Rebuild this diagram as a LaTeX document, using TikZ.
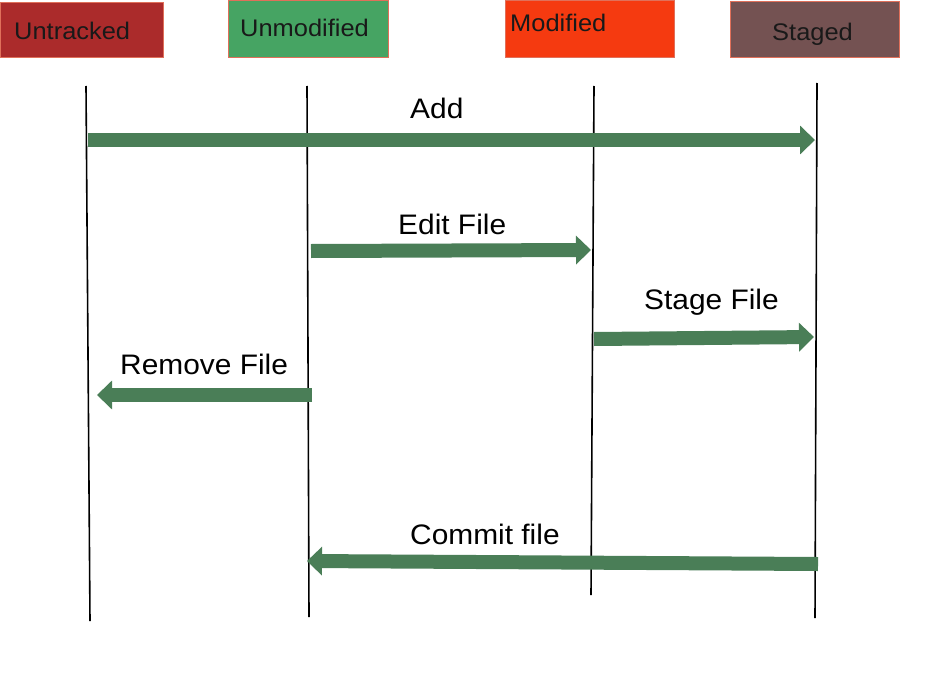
\documentclass[tikz,border=0pt]{standalone}
\usepackage{fontspec}
\setmainfont{Liberation Sans}
\newfontfamily\labfont[FakeStretch=1.06]{Liberation Sans}
\usetikzlibrary{arrows.meta}
\definecolor{untrackedc}{HTML}{AB2B2B}
\definecolor{unmodc}{HTML}{46A463}
\definecolor{modc}{HTML}{F53A10}
\definecolor{stagedc}{HTML}{745252}
\definecolor{edgec}{HTML}{E0705A}
\definecolor{arrowc}{HTML}{4A7E57}
\tikzset{
  statebox/.style={draw=edgec, line width=0.9pt, rectangle},
  boxlabel/.style={anchor=base west, inner sep=0pt, font=\labfont\fontsize{24}{28}\selectfont, text=black!90},
  arrlabel/.style={anchor=base west, inner sep=0pt, font=\labfont\fontsize{28.2}{32}\selectfont, text=black},
  lifeline/.style={draw=black, line width=1.6pt},
  transition/.style={draw=arrowc, line width=14pt, -{Triangle[width=28pt,length=15pt]}}
}
\begin{document}
\begin{tikzpicture}[x=1pt,y=-1pt]
\useasboundingbox (0,0) rectangle (952,698);
% state boxes
\path[statebox, fill=untrackedc] (0,2) rectangle (163,57);
\path[statebox, fill=unmodc] (228,0.5) rectangle (388,57);
\path[statebox, fill=modc] (505,0.5) rectangle (674,57);
\path[statebox, fill=stagedc] (730,1) rectangle (899,57);
\node[boxlabel] (lu) at (14,39.5) {Untracked};
\node[boxlabel] (lm) at (240,36.5) {Unmodified};
\node[boxlabel] (lmod) at (510,31.5) {Modified};
\node[boxlabel] (ls) at (772,40.5) {Staged};
% lifelines
\coordinate (t1) at (86,86);  \coordinate (b1) at (90,621);
\coordinate (t2) at (307,86); \coordinate (b2) at (309,617);
\coordinate (t3) at (594,86); \coordinate (b3) at (591,595);
\coordinate (t4) at (817,83); \coordinate (b4) at (815,618);
\draw[lifeline] (t1) -- (b1);
\draw[lifeline] (t2) -- (b2);
\draw[lifeline] (t3) -- (b3);
\draw[lifeline] (t4) -- (b4);
% transitions
\coordinate (addS) at (88,140);   \coordinate (addE) at (815,140);
\coordinate (editS) at (311,251); \coordinate (editE) at (591,250);
\coordinate (stageS) at (594,339);\coordinate (stageE) at (814,337);
\coordinate (remS) at (312,395);  \coordinate (remE) at (97,395);
\coordinate (comS) at (818,564);  \coordinate (comE) at (307,561);
\draw[transition] (addS) -- (addE);
\draw[transition] (editS) -- (editE);
\draw[transition] (stageS) -- (stageE);
\draw[transition] (remS) -- (remE);
\draw[transition] (comS) -- (comE);
% labels
\node[arrlabel] (ladd) at (410,118.5) {Add};
\node[arrlabel] (ledit) at (398,234.5) {Edit File};
\node[arrlabel] (lstage) at (644,309.5) {Stage File};
\node[arrlabel] (lrem) at (120,374.8) {Remove File};
\node[arrlabel] (lcom) at (410,544.5) {Commit file};
\end{tikzpicture}
\end{document}
